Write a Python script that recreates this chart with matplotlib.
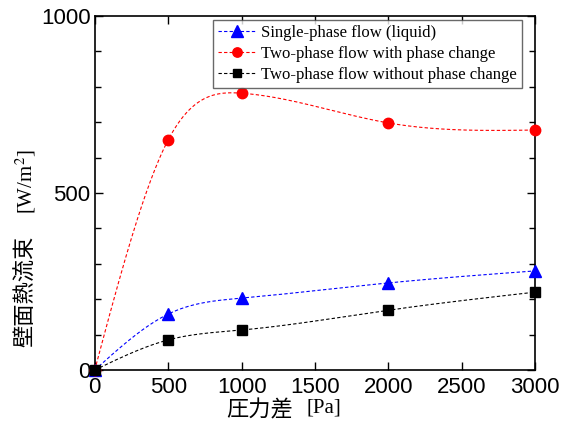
import numpy as np
import matplotlib

matplotlib.use("Agg")

import matplotlib.pyplot as plt
from matplotlib.ticker import MultipleLocator

# Data
pressure = [0, 500, 1000, 2000, 3000]
single_phase = [0, 158, 203, 246, 280]
two_phase_change = [0, 650, 782, 698, 678]
two_phase_no_change = [0, 85, 113, 169, 220]

labels = [
    "Single-phase flow (liquid)",
    "Two-phase flow with phase change",
    "Two-phase flow without phase change",
]


def natural_spline(x, y, n=300):
    # natural cubic spline through the points, only for drawing the smooth line
    x = np.asarray(x, float)
    y = np.asarray(y, float)
    k = len(x)
    h = np.diff(x)
    A = np.zeros((k, k))
    b = np.zeros(k)
    A[0, 0] = A[-1, -1] = 1
    for i in range(1, k - 1):
        A[i, i - 1] = h[i - 1]
        A[i, i] = 2 * (h[i - 1] + h[i])
        A[i, i + 1] = h[i]
        b[i] = 3 * ((y[i + 1] - y[i]) / h[i] - (y[i] - y[i - 1]) / h[i - 1])
    c = np.linalg.solve(A, b)
    xs = np.linspace(x[0], x[-1], n)
    ys = np.empty_like(xs)
    for j, xv in enumerate(xs):
        i = min(np.searchsorted(x, xv, side="right") - 1, k - 2)
        d = xv - x[i]
        bb = (y[i + 1] - y[i]) / h[i] - h[i] * (2 * c[i] + c[i + 1]) / 3
        dd = (c[i + 1] - c[i]) / (3 * h[i])
        ys[j] = y[i] + bb * d + c[i] * d ** 2 + dd * d ** 3
    return xs, ys


plt.rcParams["mathtext.fontset"] = "stix"

fig = plt.figure(figsize=(5.64, 4.28), dpi=100)
ax = fig.add_axes([0.168, 0.1355, 0.781, 0.827])

series = [
    (single_phase, "blue", "^", 9),
    (two_phase_change, "red", "o", 7.5),
    (two_phase_no_change, "black", "s", 7),
]
for (vals, color, marker, ms), label in zip(series, labels):
    xs, ys = natural_spline(pressure, vals)
    ax.plot(xs, ys, color=color, linestyle=(0, (3, 2)), linewidth=0.8, zorder=2)
    ax.plot(pressure, vals, linestyle="none", marker=marker, color=color,
            markersize=ms, zorder=3, clip_on=False)
    ax.plot([], [], color=color, linestyle=(0, (3, 2)), linewidth=0.8,
            marker=marker, markersize=ms * 0.9, label=label)

ax.set_xlim(0, 3000)
ax.set_ylim(0, 1000)
ax.xaxis.set_major_locator(MultipleLocator(500))
ax.yaxis.set_major_locator(MultipleLocator(500))
ax.yaxis.set_minor_locator(MultipleLocator(100))
ax.tick_params(which="both", direction="in", top=True, right=True,
               labelsize=16, width=1)
ax.tick_params(which="major", length=6)
ax.tick_params(which="minor", length=4)
ax.tick_params(axis="x", pad=5)
ax.tick_params(axis="y", pad=3)
for lab in ax.get_xticklabels() + ax.get_yticklabels():
    lab.set_fontfamily("Liberation Sans")
for sp in ax.spines.values():
    sp.set_linewidth(1.2)

leg = ax.legend(loc="upper right", bbox_to_anchor=(0.97, 0.988),
                prop={"family": "Liberation Serif", "size": 12},
                frameon=True, fancybox=False, edgecolor="#444444",
                handlelength=2.3, handletextpad=0.3, borderpad=0.3,
                labelspacing=0.3, borderaxespad=0)
leg.get_frame().set_linewidth(1.0)

# axis titles: Japanese part plus unit in serif
fig.text(0.045, 0.189, "壁面熱流束", rotation=90, ha="center", va="bottom",
         fontsize=16, family=["Noto Sans CJK JP", "DejaVu Sans"])
fig.text(0.045, 0.50, r"[W/m$^2$]", rotation=90, ha="center", va="bottom",
         fontsize=15, family="Liberation Serif")
fig.text(0.402, 0.042, "圧力差", ha="left", va="center",
         fontsize=16, family=["Noto Sans CJK JP", "DejaVu Sans"])
fig.text(0.544, 0.046, "[Pa]", ha="left", va="center",
         fontsize=15, family="Liberation Serif")

fig.savefig("out.png", dpi=100)
